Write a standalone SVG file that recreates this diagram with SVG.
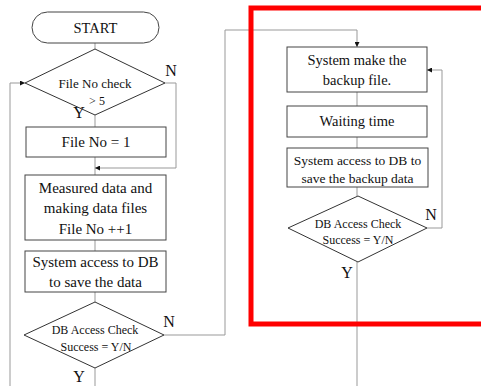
<svg xmlns="http://www.w3.org/2000/svg" width="481" height="386" viewBox="0 0 481 386">
  <defs>
    <marker id="arr" viewBox="0 0 10 10" refX="10" refY="5" markerWidth="5" markerHeight="5" orient="auto" markerUnits="userSpaceOnUse">
      <path d="M0,0 L10,5 L0,10 z" fill="#111"/>
    </marker>
  </defs>
  <style>
    .box { fill: #fff; stroke: #444; stroke-width: 1; }
    .dia { fill: #fff; stroke: #333; stroke-width: 1; }
    .wire { fill: none; stroke: #999; stroke-width: 1; }
    text { font-family: "Liberation Serif", "Times New Roman", serif; fill: #111; text-anchor: middle; }
    .t15 { font-size: 15px; }
    .t14 { font-size: 14.5px; }
    .t13 { font-size: 13.5px; }
    .t12 { font-size: 12px; }
    .lbl { font-size: 16px; }
  </style>
  <rect width="481" height="386" fill="#fff"/>

  <!-- connectors -->
  <g id="connectors">
    <path class="wire" d="M95,43 V49"/>
    <path class="wire" d="M95,115 V127"/>
    <path class="wire" d="M95,157 V175"/>
    <path class="wire" d="M165,83 H176 V168 H95" marker-end="url(#arr)"/>
    <path class="wire" d="M10,386 V83 H25" marker-end="url(#arr)"/>
    <path class="wire" d="M95,240 V251"/>
    <path class="wire" d="M95,292 V302"/>
    <path class="wire" d="M95,368 V386"/>
    <path class="wire" d="M164,335 H225 V30 H357 V47" marker-end="url(#arr)"/>
    <path class="wire" d="M357,92 V106"/>
    <path class="wire" d="M357,137 V148"/>
    <path class="wire" d="M357,187 V196"/>
    <path class="wire" d="M427,228 H442 V70 H427" marker-end="url(#arr)"/>
    <path class="wire" d="M357,262 V386"/>
  </g>

  <g id="start">
    <rect class="box" x="32" y="12" width="127" height="31" rx="15.5"/>
    <text class="t14" x="95.5" y="33">START</text>
  </g>

  <g id="fileNoCheck">
    <polygon class="dia" points="95,49 165,83 95,115 25,83"/>
    <text class="t12" x="95" y="88" style="font-size:13px">File No check</text>
    <text class="t12" x="97" y="105">&gt; 5</text>
    <text class="lbl" x="171" y="76">N</text>
    <text class="lbl" x="79" y="118">Y</text>
  </g>

  <g id="fileNoReset">
    <rect class="box" x="26" y="127" width="140" height="30"/>
    <text class="t15" x="96" y="147">File No = 1</text>
  </g>

  <g id="measure">
    <rect class="box" x="25" y="175" width="141" height="65"/>
    <text class="t15" x="95.5" y="193">Measured data and</text>
    <text class="t15" x="95.5" y="213">making data files</text>
    <text class="t15" x="95.5" y="234">File No ++1</text>
  </g>

  <g id="saveData">
    <rect class="box" x="25" y="251" width="141" height="41"/>
    <text class="t15" x="95.5" y="267">System access to DB</text>
    <text class="t15" x="95.5" y="287">to save the data</text>
  </g>

  <g id="dbCheck">
    <polygon class="dia" points="95,302 164,335 95,368 24,335"/>
    <text class="t12" x="95" y="334">DB Access Check</text>
    <text class="t12" x="96" y="351">Success = Y/N</text>
    <text class="lbl" x="169" y="327">N</text>
    <text class="lbl" x="79" y="382">Y</text>
  </g>

  <g id="backupRegion">
    <rect x="251" y="8" width="240" height="316" fill="none" stroke="#f00" stroke-width="5"/>
  </g>

  <g id="makeBackup">
    <rect class="box" x="287" y="47" width="140" height="45"/>
    <text class="t14" x="357" y="65">System make the</text>
    <text class="t14" x="357" y="85">backup file.</text>
  </g>

  <g id="waiting">
    <rect class="box" x="287" y="106" width="140" height="31"/>
    <text class="t14" x="357" y="126">Waiting time</text>
  </g>

  <g id="saveBackup">
    <rect class="box" x="287" y="148" width="141" height="39"/>
    <text class="t13" x="357.5" y="165">System access to DB to</text>
    <text class="t13" x="357.5" y="183">save the backup data</text>
  </g>

  <g id="backupCheck">
    <polygon class="dia" points="358,196 427,228 358,262 288,228"/>
    <text class="t12" x="358" y="228">DB Access Check</text>
    <text class="t12" x="358" y="244">Success = Y/N</text>
    <text class="lbl" x="431" y="220">N</text>
    <text class="lbl" x="347" y="278">Y</text>
  </g>
</svg>
